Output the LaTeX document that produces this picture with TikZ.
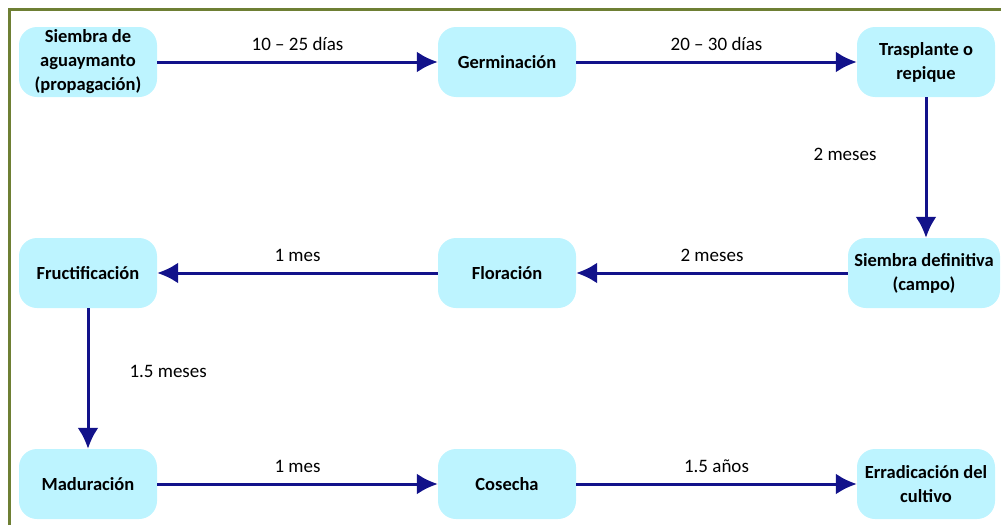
\documentclass[tikz,border=0pt]{standalone}
\usepackage{fontspec}
\setmainfont{Carlito}
\usetikzlibrary{arrows.meta,positioning}

\definecolor{cyanclaro}{HTML}{BDF4FF}
\definecolor{azul}{HTML}{12128A}
\definecolor{olivo}{HTML}{6E7F34}

\tikzset{
  etapa/.style={fill=cyanclaro,rounded corners=18pt,minimum width=138pt,
    minimum height=70pt,align=center,inner sep=2pt,
    font=\bfseries\fontsize{18.5}{24}\selectfont},
  flecha/.style={draw=azul,line width=3pt,-{Latex[length=21pt,width=21pt]}},
  tiempo/.style={inner sep=0pt,font=\fontsize{19}{22}\selectfont}
}

\begin{document}
\begin{tikzpicture}[x=1pt,y=-1pt]
  \useasboundingbox (0,0) rectangle (1001,525);
  % marco
  \draw[olivo,line width=3pt] (9,525)--(9,9)--(1001,9);

  % etapas
  \node[etapa] (siembra) at (88,62) {Siembra de\\aguaymanto\\(propagación)};
  \node[etapa] (germ) at (507,62) {Germinación};
  \node[etapa] (trasp) at (926,62) {Trasplante o\\repique};
  \node[etapa,minimum width=152pt] (definitiva) at (924,273) {Siembra definitiva\\(campo)};
  \node[etapa] (flor) at (507,273) {Floración};
  \node[etapa] (fruct) at (88,273) {Fructificación};
  \node[etapa] (madur) at (88,484) {Maduración};
  \node[etapa] (cosecha) at (507,484) {Cosecha};
  \node[etapa] (errad) at (926,484) {Erradicación del\\cultivo};

  % flechas
  \draw[flecha] (siembra)--(germ) node[midway,above=10pt,tiempo]{10 -- 25 días};
  \draw[flecha] (germ)--(trasp) node[midway,above=10pt,tiempo]{20 -- 30 días};
  \draw[flecha] (trasp.south)--(trasp.south |- definitiva.north)
    node[pos=0.41,left=48pt,tiempo]{2 meses};
  \draw[flecha] (definitiva)--(flor) node[midway,above=10pt,tiempo]{2 meses};
  \draw[flecha] (flor)--(fruct) node[midway,above=10pt,tiempo]{1 mes};
  \draw[flecha] (fruct)--(madur) node[pos=0.45,right=40pt,tiempo]{1.5 meses};
  \draw[flecha] (madur)--(cosecha) node[midway,above=10pt,tiempo]{1 mes};
  \draw[flecha] (cosecha)--(errad) node[midway,above=10pt,tiempo]{1.5 años};
\end{tikzpicture}
\end{document}
